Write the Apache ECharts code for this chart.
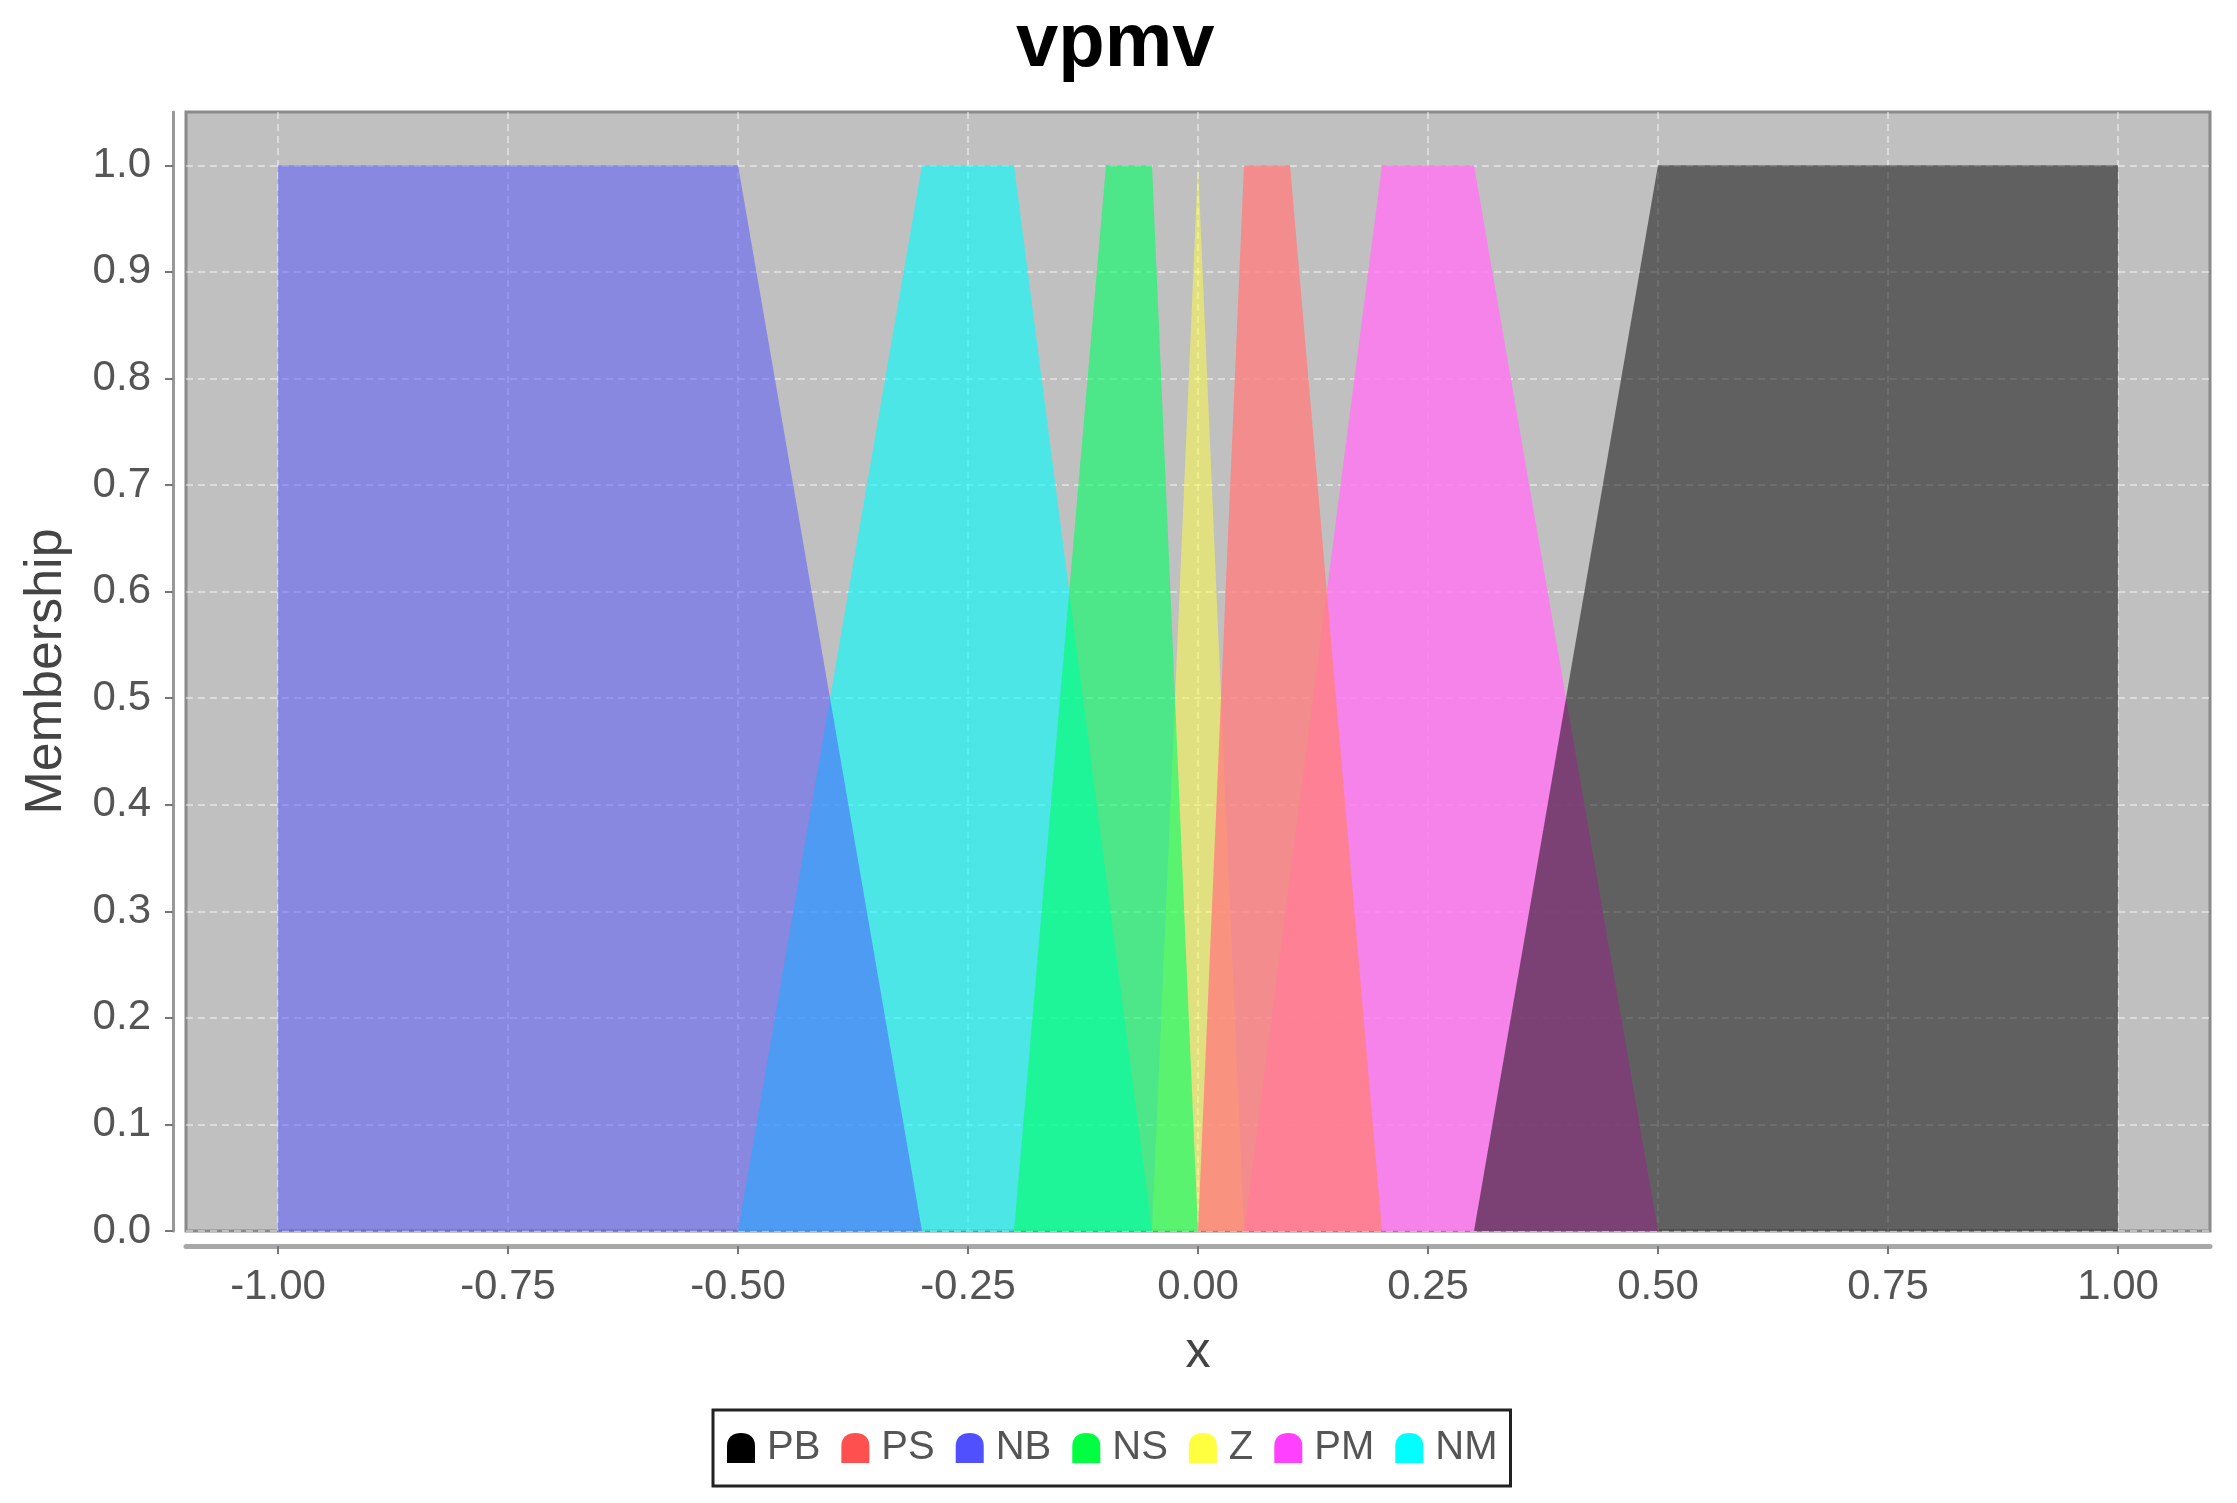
<!DOCTYPE html>
<html>
<head>
<meta charset="utf-8">
<script src="https://cdn.jsdelivr.net/npm/echarts@6/dist/echarts.min.js"></script>
<style>
html,body{margin:0;padding:0;background:#fff;}
#chart{width:2237px;height:1503px;}
</style>
</head>
<body>
<div id="chart"></div>
<script>
// Membership functions (x breakpoints and membership values)
const seriesNames = ['PB', 'PS', 'NB', 'NS', 'Z', 'PM', 'NM'];
const PB_x = [0.30, 0.50, 1.00, 1.00];   const PB_y = [0, 1, 1, 0];
const PS_x = [0.00, 0.05, 0.10, 0.20];   const PS_y = [0, 1, 1, 0];
const NB_x = [-1.00, -1.00, -0.50, -0.30]; const NB_y = [0, 1, 1, 0];
const NS_x = [-0.20, -0.10, -0.05, 0.00]; const NS_y = [0, 1, 1, 0];
const Z_x  = [-0.05, 0.00, 0.05];        const Z_y  = [0, 1, 0];
const PM_x = [0.05, 0.20, 0.30, 0.50];   const PM_y = [0, 1, 1, 0];
const NM_x = [-0.50, -0.30, -0.20, -0.05]; const NM_y = [0, 1, 1, 0];

const xTicks = [-1.00, -0.75, -0.50, -0.25, 0.00, 0.25, 0.50, 0.75, 1.00];
const yTicks = [0.0, 0.1, 0.2, 0.3, 0.4, 0.5, 0.6, 0.7, 0.8, 0.9, 1.0];

// legend (opaque) colours
const legendColors = {
  PB: '#000000', PS: '#FF5050', NB: '#5050FF', NS: '#00FF40',
  Z: '#FFFF40', PM: '#FF40FF', NM: '#00FFFF'
};
// area fill colours and opacities
const areaColors = {
  PB: '#000000', PS: '#FF8080', NB: '#5050FF', NS: '#00FF64',
  Z: '#FFFF40', PM: '#FF78F0', NM: '#00FFFF'
};
const areaOpacity = { PB: 0.5, PS: 0.8, NB: 0.5, NS: 0.6, Z: 0.5, PM: 0.85, NM: 0.6 };

const dataMap = {
  PB: [PB_x, PB_y], PS: [PS_x, PS_y], NB: [NB_x, NB_y], NS: [NS_x, NS_y],
  Z: [Z_x, Z_y], PM: [PM_x, PM_y], NM: [NM_x, NM_y]
};

const FONT = '"Liberation Sans", Arial, sans-serif';
const icon = 'path://M0,30 L0,13 C0,4 6,0 14,0 C22,0 28,4 28,13 L28,30 Z';

// draw in reverse order so that PB is on top
const drawOrder = seriesNames.slice().reverse();
const series = drawOrder.map(name => {
  const [xs, ys] = dataMap[name];
  return {
    name: name,
    type: 'line',
    data: xs.map((x, i) => [x, ys[i]]),
    symbol: 'none',
    showSymbol: false,
    smooth: false,
    silent: true,
    animation: false,
    itemStyle: { color: legendColors[name] },
    lineStyle: { width: 0, opacity: 0 },
    areaStyle: { color: areaColors[name], opacity: areaOpacity[name] }
  };
});

const chart = echarts.init(document.getElementById('chart'), null, { renderer: 'canvas' });
chart.setOption({
  animation: false,
  backgroundColor: '#ffffff',
  title: {
    text: 'vpmv',
    left: 1011,
    top: 2,
    textStyle: { fontFamily: FONT, fontWeight: 'bold', fontSize: 76, color: '#000' }
  },
  legend: {
    data: seriesNames.map(n => ({ name: n, icon: icon, itemStyle: { color: legendColors[n], opacity: 1 } })),
    left: 713,
    top: 1410,
    width: 900,
    itemWidth: 28,
    itemHeight: 30,
    itemGap: 21,
    padding: [18, 13, 18, 14],
    borderColor: '#222',
    borderWidth: 3,
    backgroundColor: '#fff',
    selectedMode: false,
    textStyle: { fontFamily: FONT, fontSize: 40, color: '#555', padding: [0, 0, 0, 7] }
  },
  grid: {
    left: 186, right: 27, top: 112, bottom: 272,
    show: true,
    backgroundColor: '#C0C0C0',
    borderColor: '#8a8a8a',
    borderWidth: 3,
    containLabel: false,
    outerBoundsMode: 'none'
  },
  xAxis: {
    type: 'value',
    min: -1.1,
    max: 1.1,
    offset: 15,
    name: 'x',
    nameLocation: 'middle',
    nameGap: 82,
    nameTextStyle: { fontFamily: FONT, fontSize: 50, color: '#444' },
    axisLine: { show: true, onZero: false, lineStyle: { color: '#a8a8a8', width: 5 } },
    axisTick: { show: true, length: 8, customValues: xTicks, lineStyle: { color: '#777', width: 2 } },
    axisLabel: {
      customValues: xTicks,
      margin: 20,
      fontFamily: FONT, fontSize: 42, color: '#555',
      formatter: v => v.toFixed(2)
    },
    splitLine: { show: true, lineStyle: { color: 'rgba(255,255,255,0.45)', width: 2, type: [7, 5] } }
  },
  yAxis: {
    type: 'value',
    min: 0,
    max: 1.05,
    interval: 0.1,
    offset: 13,
    name: 'Membership',
    nameLocation: 'middle',
    nameRotate: 90,
    nameGap: 100,
    nameTextStyle: { fontFamily: FONT, fontSize: 52, color: '#444' },
    axisLine: { show: true, onZero: false, lineStyle: { color: '#999', width: 3 } },
    axisTick: { show: true, length: 8, customValues: yTicks, lineStyle: { color: '#777', width: 2 } },
    axisLabel: {
      customValues: yTicks,
      margin: 22,
      fontFamily: FONT, fontSize: 42, color: '#555',
      formatter: v => v.toFixed(1)
    },
    splitLine: { show: true, lineStyle: { color: 'rgba(255,255,255,0.45)', width: 2, type: [7, 5] } }
  },
  series: series
});
</script>
</body>
</html>
